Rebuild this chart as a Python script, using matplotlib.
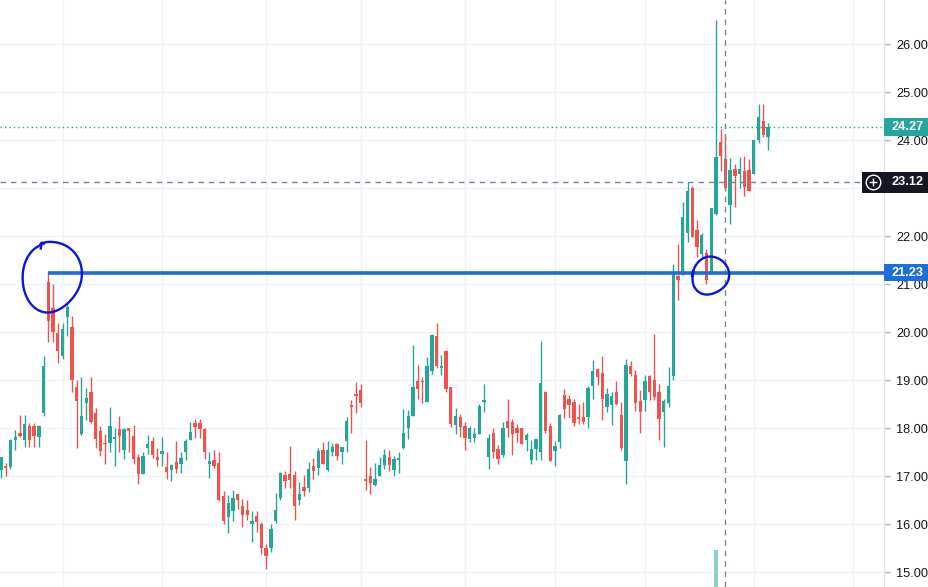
import numpy as np
import matplotlib
matplotlib.use("Agg")
import matplotlib.pyplot as plt
from matplotlib.patches import Rectangle
from matplotlib.transforms import blended_transform_factory

# ---------------- data (OHLC, one row per daily candle) ----------------
opens = [17.13,17.20,17.19,17.74,17.90,17.74,18.04,18.04,17.82,18.32,
         21.04,20.49,19.98,19.49,20.31,20.11,18.86,17.87,18.53,18.75,
         18.32,17.94,17.68,17.69,17.78,17.98,17.54,18.00,17.83,17.40,
         17.04,17.59,17.72,17.40,17.46,17.18,17.13,17.30,17.24,17.49,
         17.76,18.11,18.10,17.97,17.25,17.33,17.27,16.58,16.15,16.28,
         16.63,16.37,16.29,16.00,16.17,16.00,15.50,15.49,16.07,16.55,
         17.02,17.04,17.02,16.51,16.77,16.76,17.21,17.17,17.54,17.13,
         17.49,17.67,17.49,17.72,18.47,18.71,18.79,16.92,17.00,16.81,
         16.99,17.23,17.40,17.12,17.34,17.59,18.00,18.26,18.98,18.98,
         18.55,19.19,19.92,19.26,19.60,18.85,18.07,18.23,18.04,17.78,
         17.80,17.88,18.54,17.40,17.90,17.56,17.44,18.15,18.12,18.00,
         18.00,17.74,17.34,17.57,17.51,18.74,18.04,17.53,17.70,18.69,
         18.60,18.54,18.22,18.22,18.22,18.88,19.22,19.15,18.44,18.48,
         18.74,18.27,17.32,19.29,19.10,18.56,18.58,19.08,19.00,18.75,
         18.33,18.52,19.08,21.17,21.19,22.07,23.01,22.13,21.63,21.65,
         21.20,22.45,23.96,23.60,22.65,23.40,23.29,23.35,23.38,23.30,
         23.99,24.40,24.07]
highs = [17.40,17.28,17.78,17.96,18.27,18.27,18.10,18.11,18.07,19.50,
         21.25,21.00,20.19,20.19,20.60,20.33,19.00,19.06,18.84,19.06,
         18.41,18.04,17.87,18.44,17.99,18.24,18.01,18.00,18.06,17.45,
         17.49,17.85,17.81,17.59,17.81,17.49,17.25,17.73,17.49,17.77,
         18.13,18.18,18.19,18.01,17.49,17.54,17.49,16.69,16.60,16.71,
         16.63,16.52,16.50,16.28,16.27,16.05,15.58,16.00,16.65,17.08,
         17.10,17.63,17.10,16.87,17.02,17.29,17.38,17.58,17.71,17.73,
         17.69,17.69,17.60,18.22,18.58,18.96,18.92,17.75,17.19,17.28,
         17.40,17.56,17.54,17.42,17.51,18.40,18.38,19.73,19.31,19.07,
         19.47,19.96,20.18,19.53,19.62,18.85,18.41,18.29,18.12,18.05,
         18.00,18.50,18.92,17.88,18.00,17.65,18.12,18.60,18.19,18.08,
         18.00,17.90,17.75,17.78,19.81,18.78,18.11,17.73,18.30,18.81,
         18.69,18.60,18.50,18.54,18.88,19.42,19.24,19.50,18.83,18.75,
         18.98,18.54,19.44,19.40,19.21,18.79,19.10,19.10,19.96,18.92,
         18.60,19.28,21.42,21.83,22.70,23.13,23.05,22.33,22.07,21.72,
         22.59,26.50,24.22,24.10,23.62,23.50,23.65,23.67,23.60,24.00,
         24.76,24.74,24.35]
lows = [16.95,17.00,17.14,17.54,17.82,17.60,17.60,17.61,17.61,18.26,
        19.80,19.80,19.35,19.43,19.92,18.76,17.58,17.85,18.17,18.10,
        17.59,17.42,17.26,17.50,17.21,17.49,17.36,17.51,17.25,16.83,
        17.04,17.45,17.37,17.21,17.20,16.94,16.90,17.06,17.07,17.33,
        17.75,17.80,17.79,17.36,16.95,17.17,16.48,16.00,15.82,16.07,
        16.32,15.94,16.08,15.63,15.84,15.38,15.06,15.42,16.03,16.50,
        16.76,16.76,16.09,16.40,16.59,16.66,16.93,17.02,17.24,17.10,
        17.41,17.33,17.26,17.49,17.90,18.32,18.43,16.70,16.62,16.79,
        16.99,17.15,17.11,17.01,17.07,17.56,17.78,18.24,18.60,18.53,
        18.55,19.12,19.26,19.10,18.76,18.03,17.87,17.82,17.54,17.70,
        17.70,17.88,18.33,17.15,17.37,17.25,17.40,17.82,17.44,17.70,
        17.67,17.53,17.26,17.33,17.33,17.90,17.32,17.21,17.59,18.21,
        18.20,18.05,18.08,18.08,18.01,18.60,18.90,18.17,18.34,18.07,
        18.48,17.54,16.83,19.08,18.35,17.90,18.35,18.58,18.58,17.75,
        17.61,18.43,19.00,20.67,21.19,21.88,21.97,21.57,21.57,21.00,
        21.20,22.44,23.35,22.96,22.26,22.61,23.01,22.83,22.94,23.30,
        23.93,24.07,23.80]
closes = [17.40,17.17,17.75,17.82,17.83,18.08,17.75,17.83,18.05,19.29,
          20.23,19.99,19.61,20.06,20.53,19.01,18.57,18.24,18.63,18.12,
          17.77,17.53,17.66,18.04,17.80,17.84,17.98,17.94,17.36,17.04,
          17.42,17.67,17.44,17.33,17.52,17.08,17.23,17.15,17.38,17.73,
          17.91,18.03,17.97,17.51,17.31,17.20,16.50,16.07,16.44,16.54,
          16.49,16.18,16.19,16.06,16.05,15.49,15.34,15.90,16.29,17.06,
          16.90,16.92,16.38,16.63,16.69,17.15,17.11,17.52,17.26,17.54,
          17.60,17.42,17.60,18.15,18.44,18.67,18.53,16.90,16.85,16.94,
          17.22,17.44,17.22,17.35,17.38,17.90,18.26,18.85,18.81,18.95,
          19.30,19.94,19.29,19.29,18.81,18.08,18.25,18.03,17.80,18.00,
          17.88,18.46,18.58,17.79,17.49,17.36,18.00,17.99,17.88,17.90,
          17.67,17.85,17.57,17.78,18.94,17.94,17.32,17.63,18.27,18.40,
          18.48,18.11,18.19,18.13,18.83,19.19,19.07,18.60,18.71,18.67,
          18.51,17.58,19.31,19.13,18.53,18.33,18.98,18.74,18.65,18.19,
          18.56,18.88,21.26,21.08,22.40,22.94,21.97,21.77,22.02,21.08,
          22.58,23.64,23.67,23.01,23.38,23.24,23.40,23.03,22.94,24.00,
          24.47,24.10,24.27]

# only visible volume bar (the rest lie below the visible window)
volume_index = [151]
volume_values = [1.0]

price_ticks = [15, 16, 17, 18, 19, 20, 21, 22, 23, 24, 25, 26]
price_tick_labels = ["15.00", "16.00", "17.00", "18.00", "19.00", "20.00",
                     "21.00", "22.00", "", "24.00", "25.00", "26.00"]
month_grid = [13, 34, 56, 76, 98, 117, 136, 159, 180]

last_price = 24.27
cross_price = 23.12
cross_index = 153
level_price = 21.23
level_start_index = 10

# ---------------- figure ----------------
UP = "#26A69A"
DOWN = "#EF5350"
GRID = "#F0F3FA"
TEXT = "#131722"
BLUE = "#1C6FD6"
PEN = "#0B16DC"

W, H = 929, 587
PLOT_W = 884
fig = plt.figure(figsize=(W / 100, H / 100), dpi=100)
fig.patch.set_facecolor("white")
ax = fig.add_axes([0, 0, PLOT_W / W, 1])
ax.set_facecolor("white")

n = len(opens)
x = np.arange(n)
o = np.array(opens); h = np.array(highs); l = np.array(lows); c = np.array(closes)
up = c >= o
cols = np.where(up, UP, DOWN)

ax.set_xlim(-0.21, 186.5)
ax.set_ylim(14.6875, 26.917)

# grid
for p in price_ticks:
    ax.axhline(p, color=GRID, lw=1, zorder=0)
for g in month_grid:
    ax.axvline(g, color=GRID, lw=1, zorder=0)

# volume (twin axis, baseline just below window)
vax = ax.twinx()
vmax = max(volume_values)
vax.set_ylim(0.26 * vmax, 12.0 * vmax)
vax.bar(volume_index, volume_values, width=0.7, color="#8ED1C9", zorder=1)
vax.axis("off")
vax.set_xlim(ax.get_xlim())

# candles
ax.vlines(x, l, h, colors=cols, lw=1.0, zorder=3)
body_bottom = np.minimum(o, c)
body_h = np.maximum(np.abs(c - o), 0.03)
ax.bar(x, body_h, bottom=body_bottom, width=0.7, color=cols, zorder=4, linewidth=0)

# last price dotted line
ax.axhline(last_price, color=UP, lw=1, ls=(0, (1, 2.2)), zorder=2)

# crosshair
trans = blended_transform_factory(ax.transAxes, ax.transData)
ax.plot([0, 862 / PLOT_W], [cross_price, cross_price], transform=trans,
        color="#758696", lw=1, ls=(0, (4, 3.5)), zorder=5)
ax.axvline(cross_index, color="#758696", lw=1, ls=(0, (4, 3.5)), zorder=5)

# horizontal level line
ax.plot([level_start_index, 186.5], [level_price, level_price], color=BLUE,
        lw=2.6, solid_capstyle="butt", zorder=6)

# hand-drawn circles
def scribble(cx, cy, rx, ry, t0, turns, wob, lw=1.7):
    t = np.linspace(t0, t0 + 2 * np.pi * turns, 300)
    r = 1 + wob[0] * np.sin(2 * t + wob[1]) + wob[2] * np.sin(3 * t + wob[3])
    r = r * (1 + 0.04 * (t - t0) / (2 * np.pi))
    xs = cx + rx * r * np.cos(t)
    ys = cy + ry * r * np.sin(t)
    ax.plot(xs, ys, color=PEN, lw=lw, zorder=7, solid_capstyle="round",
            solid_joinstyle="round")

scribble(10.6, 21.15, 6.0, 0.73, 1.95, 1.0, (0.04, 0.6, 0.03, 1.0))
ax.plot([8.4, 8.6, 9.0], [21.74, 21.86, 21.84], color=PEN, lw=1.7, zorder=7)
scribble(149.8, 21.17, 3.75, 0.39, 2.9, 1.04, (0.05, 0.3, 0.03, 2.0))

# axis styling
for s in ["top", "left", "bottom"]:
    ax.spines[s].set_visible(False)
ax.spines["right"].set_color("#E0E3EB")
ax.set_xticks([])
ax.yaxis.tick_right()
ax.set_yticks(price_ticks)
ax.set_yticklabels(price_tick_labels)
ax.tick_params(axis="y", length=4, width=1, color="#B2B5BE", pad=5,
               labelsize=9.2, labelcolor=TEXT)
for lab in ax.get_yticklabels():
    lab.set_fontfamily(["Liberation Sans", "DejaVu Sans"])

# price-scale labels
box_w = 45 / PLOT_W
def price_label(price, text, color, hpx):
    hd = hpx * (ax.get_ylim()[1] - ax.get_ylim()[0]) / H
    ax.add_patch(Rectangle((1.0, price - hd / 2), box_w, hd, transform=trans,
                           facecolor=color, edgecolor="none", clip_on=False, zorder=10))
    ax.text(1.0 + box_w / 2 + 1.5 / PLOT_W, price, text, transform=trans, color="white",
            fontsize=9.2, ha="center", va="center", clip_on=False, zorder=11,
            family=["Liberation Sans", "DejaVu Sans"], fontweight="bold")

price_label(last_price, f"{last_price:.2f}", UP, 18)
price_label(cross_price, f"{cross_price:.2f}", TEXT, 21)
price_label(level_price, f"{level_price:.2f}", BLUE, 17)

# plus button on crosshair
hd = 21 * (ax.get_ylim()[1] - ax.get_ylim()[0]) / H
ax.add_patch(Rectangle((862 / PLOT_W, cross_price - hd / 2), 22 / PLOT_W, hd,
                       transform=trans, facecolor=TEXT, edgecolor="none",
                       clip_on=False, zorder=10))
ax.plot([873 / PLOT_W], [cross_price], transform=trans, marker="o", ms=10.5,
        mfc="none", mec="white", mew=1.0, clip_on=False, zorder=12)
ax.plot([873 / PLOT_W], [cross_price], transform=trans, marker="+", ms=6,
        mec="white", mew=1.0, clip_on=False, zorder=12)

fig.savefig("out.png", dpi=100, facecolor="white")
